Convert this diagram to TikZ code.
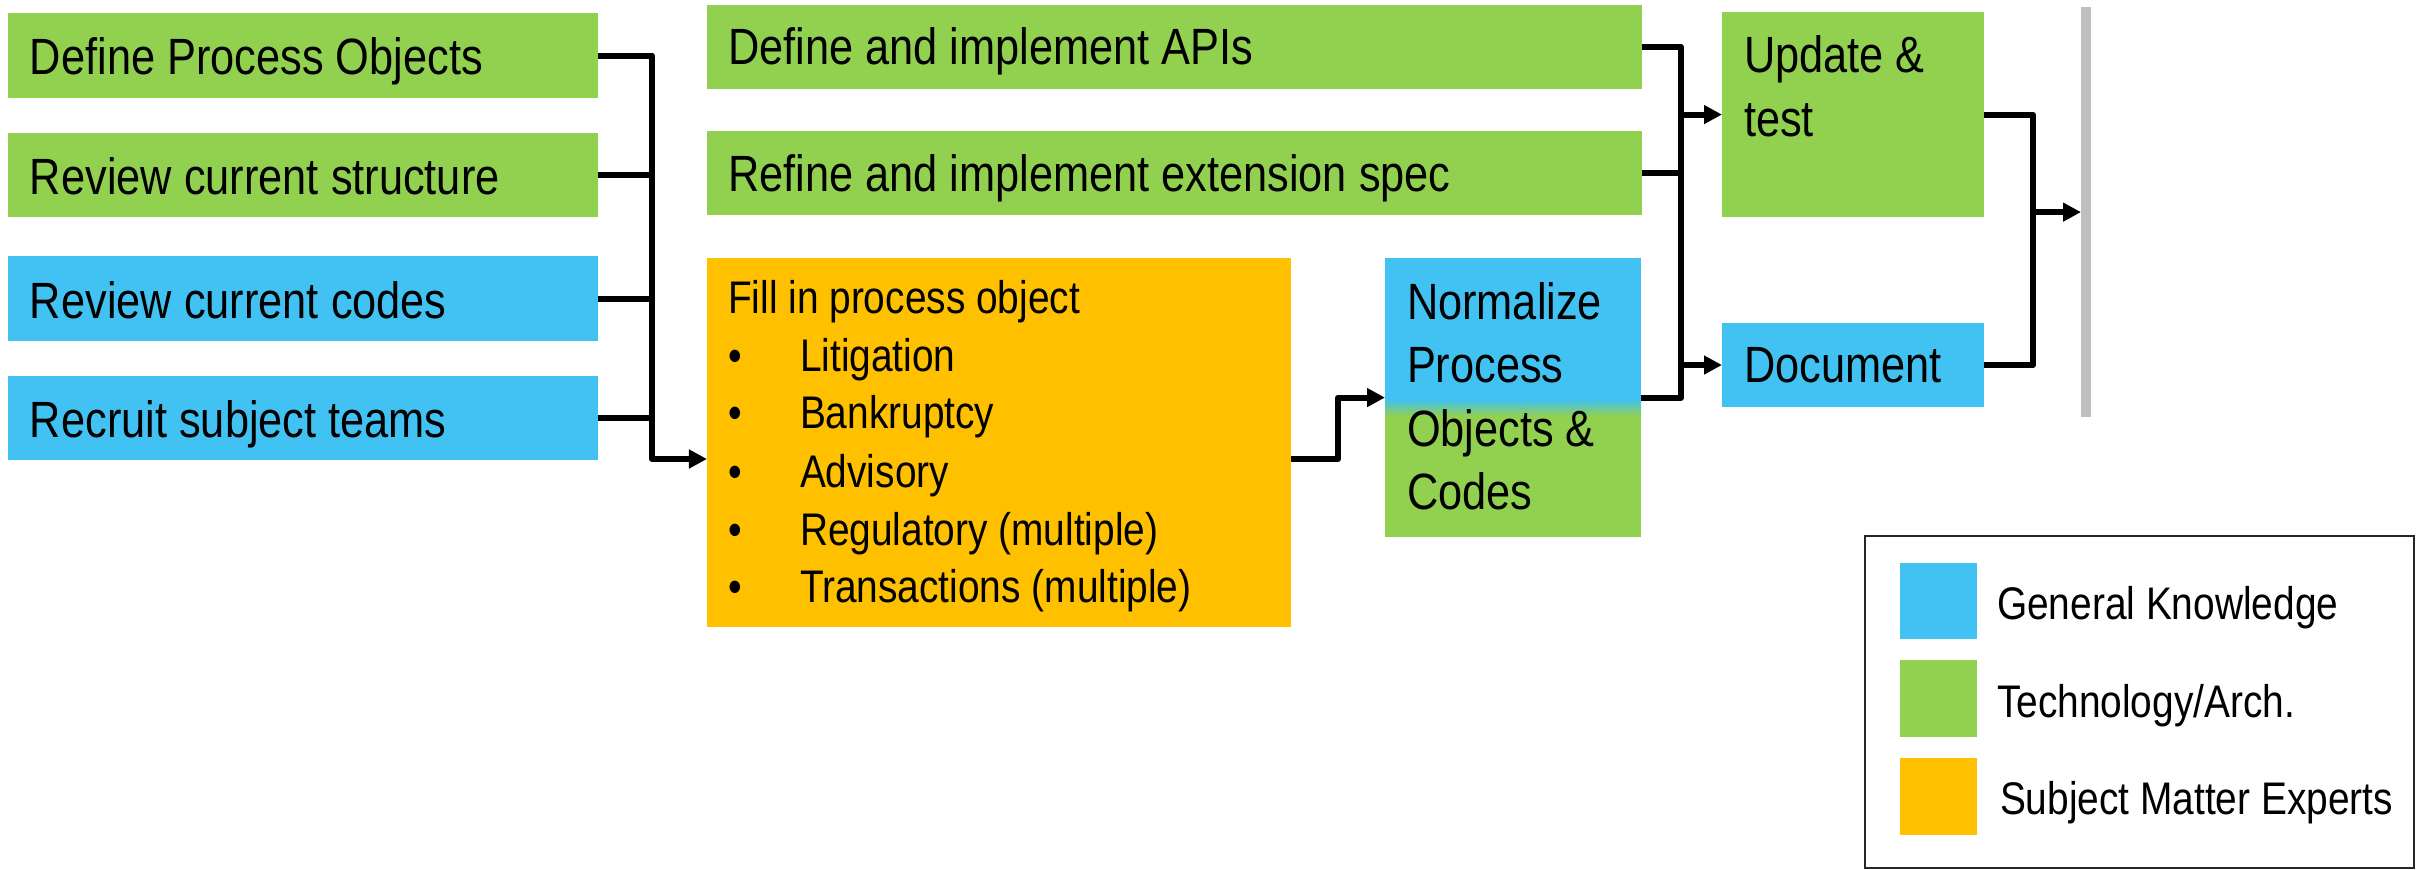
\documentclass[tikz,border=0pt]{standalone}
\usepackage{fontspec}
\setmainfont{Liberation Sans}[FakeStretch=0.85]
\usetikzlibrary{arrows.meta}
\definecolor{cgreen}{HTML}{92D050}
\definecolor{cblue}{HTML}{41C2F2}
\definecolor{corange}{HTML}{FFC000}
\definecolor{cgray}{HTML}{BFBFBF}
\begin{document}
\begin{tikzpicture}[x=0.01cm,y=-0.01cm,
  box/.style={anchor=north west,inner sep=0,outer sep=0},
  gbox/.style={box,fill=cgreen},
  bbox/.style={box,fill=cblue},
  obox/.style={box,fill=corange},
  txt/.style={anchor=base west,inner sep=0,outer sep=0,font=\fontsize{14.5}{17}\selectfont},
  stxt/.style={anchor=base west,inner sep=0,outer sep=0,font=\fontsize{13}{15}\selectfont},
  conn/.style={line width=1.7pt,line join=round},
  arr/.style={conn,-{Triangle[length=0.18cm,width=0.18cm]}}]
\useasboundingbox (0,0) rectangle (2417,870);

% left column
\node[gbox,minimum width=5.90cm,minimum height=0.85cm] (b1) at (8,13) {};
\node[gbox,minimum width=5.90cm,minimum height=0.84cm] (b2) at (8,133) {};
\node[bbox,minimum width=5.90cm,minimum height=0.85cm] (b3) at (8,256) {};
\node[bbox,minimum width=5.90cm,minimum height=0.84cm] (b4) at (8,376) {};
\node[txt] (t1) at (30,75) {Define Process Objects};
\node[txt] (t2) at (30,195) {Review current structure};
\node[txt] (t3) at (30,318) {Review current codes};
\node[txt] (t4) at (30,437) {Recruit subject teams};

% middle column
\node[gbox,minimum width=9.34cm,minimum height=0.84cm] (api) at (707,5) {};
\node[gbox,minimum width=9.34cm,minimum height=0.84cm] (ref) at (707,131) {};
\node[txt] (tapi) at (728,65) {Define and implement APIs};
\node[txt] (tref) at (728,192) {Refine and implement extension spec};

\node[obox,minimum width=5.84cm,minimum height=3.69cm] (fill) at (707,258) {};
\node[stxt] (f0) at (728,314) {Fill in process object};
\node[stxt] (f1b) at (728,371) {•};
\node[stxt] (f1) at (800,371) {Litigation};
\node[stxt] (f2b) at (728,429) {•};
\node[stxt] (f2) at (800,429) {Bankruptcy};
\node[stxt] (f3b) at (728,487) {•};
\node[stxt] (f3) at (800,487) {Advisory};
\node[stxt] (f4b) at (728,545) {•};
\node[stxt] (f4) at (800,545) {Regulatory (multiple)};
\node[stxt] (f5b) at (728,602) {•};
\node[stxt] (f5) at (800,602) {Transactions (multiple)};

% normalize box (blue to green)
\fill[cblue] (1385,258) rectangle (1641,400);
\shade[top color=cblue,bottom color=cgreen] (1385,399.5) rectangle (1641,416);
\fill[cgreen] (1385,415.5) rectangle (1641,537);
\node[box,minimum width=2.56cm,minimum height=2.79cm] (norm) at (1385,258) {};
\node[txt] (n1) at (1407,320) {Normalize};
\node[txt] (n2) at (1407,383) {Process};
\node[txt] (n3) at (1407,446) {Objects \&};
\node[txt] (n4) at (1407,509) {Codes};

% right column
\node[gbox,minimum width=2.62cm,minimum height=2.05cm] (upd) at (1722,12) {};
\node[bbox,minimum width=2.62cm,minimum height=0.84cm] (doc) at (1722,323) {};
\node[txt] (u1) at (1744,73) {Update \&};
\node[txt] (u2) at (1744,137) {test};
\node[txt] (d1) at (1744,383) {Document};

\node[box,fill=cgray,minimum width=0.10cm,minimum height=4.10cm] (bar) at (2081,7) {};

% connectors
\coordinate (j1) at (652,459);
\draw[arr] (b1.east) -| (j1) -- (j1 -| fill.west);
\draw[conn] (b2.east) -- (b2.east -| j1);
\draw[conn] (b3.east) -- (b3.east -| j1);
\draw[conn] (b4.east) -- (b4.east -| j1);

\coordinate (j3) at (1338,459);
\draw[arr] (fill.east |- j3) -- (j3) |- (norm.west);

\coordinate (bus2) at (1681,0);
\draw[conn] (api.east) -- (api.east -| bus2) -- (norm.east -| bus2) -- (norm.east);
\draw[conn] (ref.east) -- (ref.east -| bus2);
\draw[arr] (upd.west -| bus2) -- (upd.west);
\draw[arr] (doc.west -| bus2) -- (doc.west);

\coordinate (bus3) at (2033,0);
\draw[conn] (upd.east) -- (upd.east -| bus3) -- (doc.east -| bus3) -- (doc.east);
\draw[arr] (bar.west -| bus3) -- (bar.west);

% legend
\node[box,draw=black!85,line width=0.6pt,minimum width=5.49cm,minimum height=3.32cm] (leg) at (1865,536) {};
\node[bbox,minimum width=0.77cm,minimum height=0.76cm] (s1) at (1900,563) {};
\node[gbox,minimum width=0.77cm,minimum height=0.77cm] (s2) at (1900,660) {};
\node[obox,minimum width=0.77cm,minimum height=0.77cm] (s3) at (1900,758) {};
\node[stxt] (l1) at (1997,619) {General Knowledge};
\node[stxt] (l2) at (1997,717) {Technology/Arch.};
\node[stxt] (l3) at (2000,814) {Subject Matter Experts};
\end{tikzpicture}
\end{document}
